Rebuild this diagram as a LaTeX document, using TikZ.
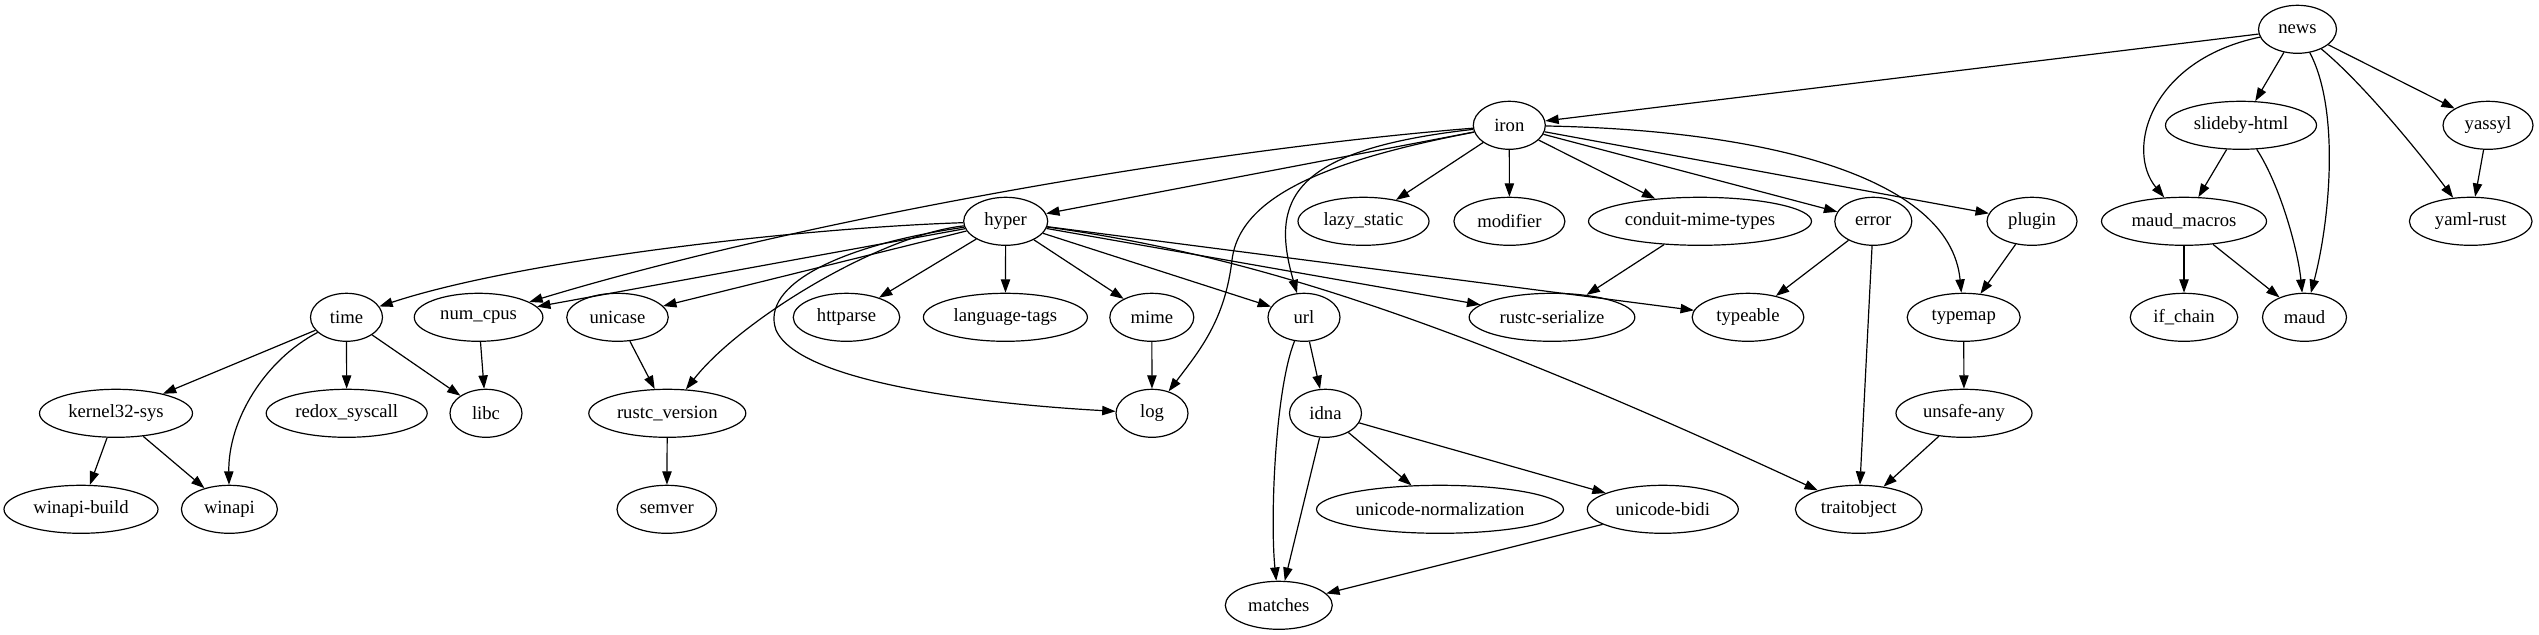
\documentclass[tikz,border=0pt]{standalone}
\usepackage{fontspec}
\setmainfont{Liberation Serif}
\usetikzlibrary{arrows.meta,shapes.geometric}
\begin{document}
\begin{tikzpicture}[x=0.75pt,y=-0.75pt,
  nd/.style={draw, ellipse, line width=0.9pt, inner sep=0pt, minimum height=36pt,
    minimum width={#1*0.75pt}, font=\fontsize{14pt}{16pt}\selectfont},
  nd/.default=72,
  arr/.style={line width=0.9pt, -{Triangle[length=10pt,width=7pt]}}]
\useasboundingbox (0,0) rectangle (2539,635);
\def\ra{29.3}\def\rb{125.3}\def\rc{221.3}\def\rd{317.3}\def\re{413.3}\def\rf{509.3}\def\rg{605.3}
% rank 0
\node[nd=78] (news) at (2297.5,\ra) {news};
% rank 1
\node[nd] (iron) at (1509.3,\rb) {iron};
\node[nd=151] (slideby) at (2241,\rb) {slideby-html};
\node[nd=90] (yassyl) at (2488,\rb) {yassyl};
% rank 2
\node[nd=84] (hyper) at (1005.7,\rc) {hyper};
\node[nd=131] (lazy) at (1363.5,\rc) {lazy\_static};
\node[nd=111] (modifier) at (1509.4,\rc) {modifier};
\node[nd=223] (conduit) at (1700,\rc) {conduit-mime-types};
\node[nd=77] (error) at (1873.3,\rc) {error};
\node[nd=90] (plugin) at (2032,\rc) {plugin};
\node[nd=165] (maudm) at (2184,\rc) {maud\_macros};
\node[nd=122.7] (yaml) at (2470.7,\rc) {yaml-rust};
% rank 3
\node[nd] (time) at (346.5,\rd) {time};
\node[nd=128.6] (numcpus) at (478.6,\rd) {num\_cpus};
\node[nd=101.5] (unicase) at (617.5,\rd) {unicase};
\node[nd=106.5] (httparse) at (846.5,\rd) {httparse};
\node[nd=164] (langtags) at (1005.4,\rd) {language-tags};
\node[nd=84] (mime) at (1151.8,\rd) {mime};
\node[nd] (url) at (1304,\rd) {url};
\node[nd=165.7] (rustcser) at (1552,\rd) {rustc-serialize};
\node[nd=111.7] (typeable) at (1748,\rd) {typeable};
\node[nd=113] (typemap) at (1963.7,\rd) {typemap};
\node[nd=107.5] (ifchain) at (2184,\rd) {if\_chain};
\node[nd=84] (maud) at (2304.5,\rd) {maud};
% rank 4
\node[nd=153] (kernel) at (116,\re) {kernel32-sys};
\node[nd=161] (redox) at (346.7,\re) {redox\_syscall};
\node[nd] (libc) at (486,\re) {libc};
\node[nd=157] (rustcver) at (667.3,\re) {rustc\_version};
\node[nd] (log) at (1152,\re) {log};
\node[nd] (idna) at (1325.5,\re) {idna};
\node[nd=136] (unsafe) at (1964,\re) {unsafe-any};
% rank 5
\node[nd=154] (winapibuild) at (81,\rf) {winapi-build};
\node[nd=96] (winapi) at (229.4,\rf) {winapi};
\node[nd=99.6] (semver) at (666.8,\rf) {semver};
\node[nd=247] (unorm) at (1440,\rf) {unicode-normalization};
\node[nd=151] (ubidi) at (1662.8,\rf) {unicode-bidi};
\node[nd=126.7] (traitobject) at (1858.7,\rf) {traitobject};
% rank 6
\node[nd=107] (matches) at (1278.8,\rg) {matches};

% straight edges
\draw[arr] (news) -- (iron);
\draw[arr] (news) -- (slideby);
\draw[arr] (news) -- (yassyl);
\draw[arr] (slideby) -- (maudm);
\draw[arr] (yassyl) -- (yaml);
\draw[arr] (maudm) -- (ifchain);
\draw[arr] (maudm) -- (maud);
\draw[arr] (iron) -- (hyper);
\draw[arr] (iron) -- (lazy);
\draw[arr] (iron) -- (modifier);
\draw[arr] (iron) -- (conduit);
\draw[arr] (iron) -- (error);
\draw[arr] (iron) -- (plugin);
\draw[arr] (hyper) -- (numcpus);
\draw[arr] (hyper) -- (unicase);
\draw[arr] (hyper) -- (httparse);
\draw[arr] (hyper) -- (langtags);
\draw[arr] (hyper) -- (mime);
\draw[arr] (hyper) -- (url);
\draw[arr] (hyper) -- (rustcser);
\draw[arr] (hyper) -- (typeable);
\draw[arr] (conduit) -- (rustcser);
\draw[arr] (error) -- (typeable);
\draw[arr] (error) -- (traitobject);
\draw[arr] (plugin) -- (typemap);
\draw[arr] (typemap) -- (unsafe);
\draw[arr] (unsafe) -- (traitobject);
\draw[arr] (time) -- (kernel);
\draw[arr] (time) -- (redox);
\draw[arr] (time) -- (libc);
\draw[arr] (numcpus) -- (libc);
\draw[arr] (kernel) -- (winapibuild);
\draw[arr] (kernel) -- (winapi);
\draw[arr] (unicase) -- (rustcver);
\draw[arr] (rustcver) -- (semver);
\draw[arr] (mime) -- (log);
\draw[arr] (url) -- (idna);
\draw[arr] (idna) -- (matches);
\draw[arr] (idna) -- (unorm);
\draw[arr] (idna) -- (ubidi);
\draw[arr] (ubidi) -- (matches);

% curved edges
\draw[arr] (iron) .. controls (1200,150) and (800,220) .. (numcpus);
\draw[arr] (hyper) .. controls (800,228) and (520,260) .. (time);
\draw[arr] (hyper) .. controls (880,235) and (740,320) .. (rustcver);
\draw[arr] (hyper) .. controls (840,245) and (760,285) .. (776,330)
                   .. controls (800,385) and (1000,405) .. (log);
\draw[arr] (iron) .. controls (1290,150) and (1270,200) .. (url);
\draw[arr] (iron) .. controls (1330,160) and (1240,195) .. (1232,260)
                  .. controls (1225,320) and (1200,350) .. (log);
\draw[arr] (iron) .. controls (1760,130) and (1950,175) .. (typemap);
\draw[arr] (news) .. controls (2150,60) and (2125,150) .. (maudm);
\draw[arr] (news) .. controls (2340,110) and (2330,220) .. (maud);
\draw[arr] (news) .. controls (2365,85) and (2425,160) .. (yaml);
\draw[arr] (slideby) .. controls (2280,185) and (2298,250) .. (maud);
\draw[arr] (hyper) .. controls (1250,255) and (1450,320) .. (traitobject);
\draw[arr] (time) .. controls (265,360) and (228,420) .. (winapi);
\draw[arr] (url) .. controls (1275,390) and (1270,520) .. (matches);
\end{tikzpicture}
\end{document}
